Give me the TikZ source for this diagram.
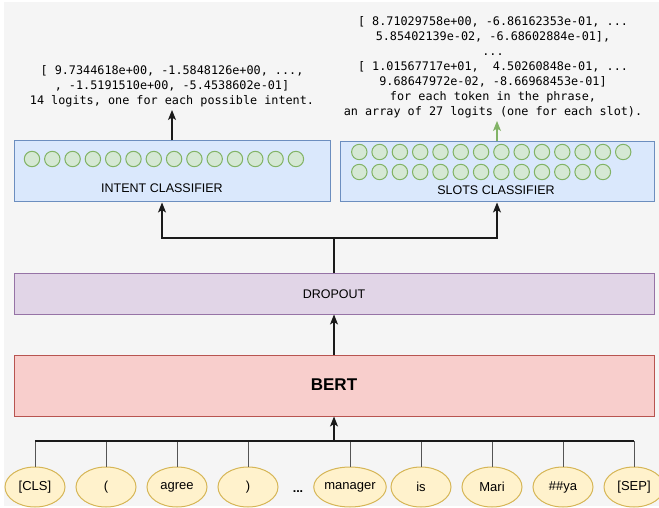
\documentclass[tikz,border=0pt]{standalone}
\usepackage{fontspec}
\setmainfont{Liberation Sans}
\newfontfamily\codefont{DejaVu Sans Mono}
\usetikzlibrary{arrows.meta,shapes.geometric}
\definecolor{bgc}{HTML}{F5F5F5}
\definecolor{bluefill}{HTML}{DAE8FC}
\definecolor{bluedraw}{HTML}{6C8EBF}
\definecolor{purfill}{HTML}{E1D5E7}
\definecolor{purdraw}{HTML}{9673A6}
\definecolor{redfill}{HTML}{F8CECC}
\definecolor{reddraw}{HTML}{B85450}
\definecolor{grnfill}{HTML}{D5E8D4}
\definecolor{grndraw}{HTML}{82B366}
\definecolor{yelfill}{HTML}{FFF2CC}
\definecolor{yeldraw}{HTML}{D6B656}
\definecolor{linec}{HTML}{1A1A1A}
\definecolor{tokline}{HTML}{555555}
\tikzset{
  layerbox/.style={rectangle, draw, line width=1pt, inner sep=0pt},
  neuron/.style={circle, draw=grndraw, fill=grnfill, line width=1pt, minimum size=15.4pt, inner sep=0pt},
  token/.style={ellipse, draw=yeldraw, fill=yelfill, line width=1pt, minimum width=60pt, minimum height=40pt, inner sep=0pt, font=\fontsize{13}{15}\selectfont},
  lbl/.style={font=\fontsize{12.5}{14}\selectfont, inner sep=0pt},
  codetxt/.style={font=\codefont\fontsize{11.8}{15}\selectfont, align=center, inner xsep=0pt, inner ysep=3pt, anchor=south},
  arr/.style={draw=linec, line width=1.1pt, -{Stealth[length=10pt,width=8pt,inset=2.5pt]}},
  plain/.style={draw=linec, line width=1.1pt},
}
\begin{document}
\begin{tikzpicture}[x=1pt,y=-1pt]
\useasboundingbox (0,0) rectangle (659,508);
\fill[bgc] (4,2) rectangle (659,506);

% boxes
\node[layerbox, draw=bluedraw, fill=bluefill, minimum width=316pt, minimum height=61pt] (intent) at (172,171.5) {};
\node[layerbox, draw=bluedraw, fill=bluefill, minimum width=314pt, minimum height=60pt] (slots) at (497,172) {};
\node[layerbox, draw=purdraw, fill=purfill, minimum width=640pt, minimum height=41pt] (dropout) at (334,293.5) {};
\node[lbl] (droplbl) at (334,294) {DROPOUT};
\node[layerbox, draw=reddraw, fill=redfill, minimum width=640pt, minimum height=61pt] (bert) at (334,385.5) {};
\node[font=\fontsize{17}{20}\selectfont\bfseries, inner sep=0pt] (bertlbl) at (334,385) {BERT};

% neurons
\foreach \i in {0,...,13} {
  \node[neuron] (in\i) at (32+20.3*\i,159) {};
  \node[neuron] (sa\i) at (359.3+20.3*\i,152) {};
}
\foreach \i in {0,...,12} {
  \node[neuron] (sb\i) at (359.3+20.3*\i,172) {};
}
\node[lbl] (intentlbl) at (162,188) {INTENT CLASSIFIER};
\node[lbl] (slotslbl) at (496,190) {SLOTS CLASSIFIER};

% output texts
\node[codetxt] (intenttxt) at (172,110) {{[} 9.7344618e+00, -1.5848126e+00, ...,\\
, -1.5191510e+00, -5.4538602e-01]\\
14 logits, one for each possible intent.};
\node[codetxt] (slotstxt) at (493,121) {{[} 8.71029758e+00, -6.86162353e-01, ...\\
5.85402139e-02, -6.68602884e-01],\\
...\\
{[} 1.01567717e+01,\ \ 4.50260848e-01, ...\\
9.68647972e-02, -8.66968453e-01]\\
for each token in the phrase,\\
an array of 27 logits (one for each slot).};

% tokens
\node[token] (t1) at (35,487) {[CLS]};
\node[token] (t2) at (106,487) {(};
\node[token] (t3) at (177,487) {agree};
\node[token] (t4) at (248,487) {)};
\node[inner sep=0pt, font=\fontsize{12.5}{14}\selectfont\bfseries] (dots) at (298,492) {...};
\node[token] (t5) at (350,487) {manager};
\node[token] (t6) at (421,487) {is};
\node[token] (t7) at (492,487) {Mari};
\node[token] (t8) at (563,487) {\#\#ya};
\node[token] (t9) at (634,487) {[SEP]};

% connectors
\coordinate (bus) at (334,441);
\coordinate (split) at (334,238);
\foreach \t in {t1,t2,t3,t4,t5,t6,t7,t8,t9} {
  \draw[draw=tokline, line width=1pt] (\t.north) -- (\t.north |- bus);
}
\draw[plain] (t1.north |- bus) -- (t9.north |- bus);
\draw[arr] (bus) -- (bert.south);
\draw[arr] (bert.north) -- (dropout.south);
\draw[plain] (dropout.north) -- (split);
\draw[arr] (split) -| (intentlbl.south |- intent.south);
\draw[arr] (split) -| (slots.south);
\draw[arr] (intent.north) -- (intent.north |- intenttxt.south);
\draw[arr, draw=grndraw, fill=grndraw] (slots.north) -- (slots.north |- slotstxt.south);
\end{tikzpicture}
\end{document}
